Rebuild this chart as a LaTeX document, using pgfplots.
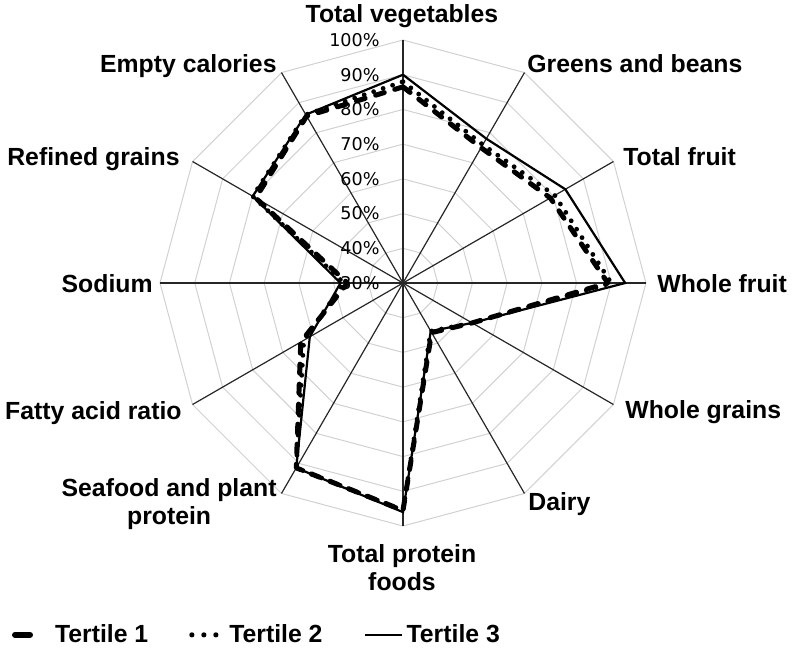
\documentclass[border=0pt]{standalone}
\usepackage{pgfplots}
\pgfplotsset{compat=1.18}
\usepackage{pgfplotstable}
\usepgfplotslibrary{polar}
\usepackage{fontspec}
\setmainfont{Liberation Sans}
\newfontfamily\tickfont{DejaVu Sans}

% scores (%) per component; first row repeated to close the web
\pgfplotstableread{
angle t1   t2   t3
90    86.5 88   90
60    75   76   78
30    79   80.5 84
0     89   90   94
-30   53   53   53
-60   46.5 46   46
-90   95.5 95.5 96
-120  91.5 91.5 91.5
-150  64   63   61
180   46   47   48
150   79   80   80
120   85.5 86   86
90    86.5 88   90
}\hei

\begin{document}
\begin{tikzpicture}[font=\bfseries\fontsize{12.4}{14}\selectfont]
\path[use as bounding box] (-201.5pt,-186pt) rectangle (195.5pt,141.5pt);
\begin{polaraxis}[
  name=ax, at={(0,0)}, anchor=center,
  scale only axis, width=243pt, height=243pt,
  xmin=0, xmax=360, ymin=0, ymax=70,
  hide axis, clip=false,
  legend columns=3,
  legend style={at={(-0.3045,-0.224)}, anchor=west, draw=none, fill=none,
    inner sep=0pt, outer sep=0pt,
    font=\bfseries\fontsize{12.4}{14}\selectfont,
    /tikz/every even column/.append style={column sep=20.5pt},
    nodes={inner sep=0pt}},
]
% web grid
\pgfplotsinvokeforeach{10,20,30,40,50,60,70}{
  \addplot[black!18, line width=0.5pt, forget plot] coordinates
    {(0,#1)(30,#1)(60,#1)(90,#1)(120,#1)(150,#1)(180,#1)(210,#1)(240,#1)(270,#1)(300,#1)(330,#1)(360,#1)};
}
\pgfplotsinvokeforeach{0,30,60,90,120,150,180,210,240,270,300,330}{
  \addplot[black!85, line width=0.6pt, forget plot] coordinates {(#1,0)(#1,70)};
}

\addplot[black, line width=2.5pt, line cap=round, line join=round,
  dash pattern=on 4.5pt off 5.5pt,
  legend image code/.code={\path[draw=none,fill=none] (0pt,0pt) -- (21.5pt,0pt);
    \draw[solid, line width=3pt, line cap=round] (1.5pt,0pt) -- (9pt,0pt);}]
  table[x=angle, y expr=\thisrow{t1}-30] {\hei};
\addlegendentry{Tertile 1}
\addplot[black, line width=2.4pt, line cap=round,
  dash pattern=on 0pt off 5pt,
  legend image code/.code={\path[draw=none,fill=none] (0pt,0pt) -- (20pt,0pt);
    \fill[draw=none] (1.3pt,0pt) circle (1.3pt) (7.3pt,0pt) circle (1.3pt) (13.3pt,0pt) circle (1.3pt);}]
  table[x=angle, y expr=\thisrow{t2}-30] {\hei};
\addlegendentry{Tertile 2}
\addplot[black, line width=1.1pt, line join=miter,
  legend image code/.code={\path[draw=none,fill=none] (0pt,0pt) -- (21pt,0pt);
    \draw[solid, line width=1.1pt] (0pt,0pt) -- (18.5pt,0pt);}]
  table[x=angle, y expr=\thisrow{t3}-30] {\hei};
\addlegendentry{Tertile 3}

% radial tick labels
\node[anchor=east, inner sep=0pt, font=\tickfont\fontsize{8.8}{10}\selectfont] at ([xshift=-11.5pt]axis cs:90,0) {30\%};
\node[anchor=east, inner sep=0pt, font=\tickfont\fontsize{8.8}{10}\selectfont] at ([xshift=-11.5pt]axis cs:90,10) {40\%};
\node[anchor=east, inner sep=0pt, font=\tickfont\fontsize{8.8}{10}\selectfont] at ([xshift=-11.5pt]axis cs:90,20) {50\%};
\node[anchor=east, inner sep=0pt, font=\tickfont\fontsize{8.8}{10}\selectfont] at ([xshift=-11.5pt]axis cs:90,30) {60\%};
\node[anchor=east, inner sep=0pt, font=\tickfont\fontsize{8.8}{10}\selectfont] at ([xshift=-11.5pt]axis cs:90,40) {70\%};
\node[anchor=east, inner sep=0pt, font=\tickfont\fontsize{8.8}{10}\selectfont] at ([xshift=-11.5pt]axis cs:90,50) {80\%};
\node[anchor=east, inner sep=0pt, font=\tickfont\fontsize{8.8}{10}\selectfont] at ([xshift=-11.5pt]axis cs:90,60) {90\%};
\node[anchor=east, inner sep=0pt, font=\tickfont\fontsize{8.8}{10}\selectfont] at ([xshift=-11.5pt]axis cs:90,70) {100\%};

% category labels
\node[anchor=base, inner sep=0pt] at ([shift={(-0.5pt,130.5pt)}]axis cs:0,0) {Total vegetables};
\node[anchor=base west, inner sep=0pt] at ([shift={(62pt,105.5pt)}]axis cs:0,0) {Greens and beans};
\node[anchor=base west, inner sep=0pt] at ([shift={(110pt,59pt)}]axis cs:0,0) {Total fruit};
\node[anchor=base west, inner sep=0pt] at ([shift={(127pt,-4.5pt)}]axis cs:0,0) {Whole fruit};
\node[anchor=base west, inner sep=0pt] at ([shift={(111pt,-67.5pt)}]axis cs:0,0) {Whole grains};
\node[anchor=base west, inner sep=0pt] at ([shift={(62.5pt,-113.5pt)}]axis cs:0,0) {Dairy};
\node[anchor=north, align=center, inner sep=0pt] at ([shift={(-0.5pt,-130.5pt)}]axis cs:0,0) {Total protein\\foods};
\node[anchor=north east, align=center, inner sep=0pt] at ([shift={(-63pt,-97.5pt)}]axis cs:0,0) {Seafood and plant\\protein};
\node[anchor=base east, inner sep=0pt] at ([shift={(-110.5pt,-68pt)}]axis cs:0,0) {Fatty acid ratio};
\node[anchor=base east, inner sep=0pt] at ([shift={(-125pt,-4.5pt)}]axis cs:0,0) {Sodium};
\node[anchor=base east, inner sep=0pt] at ([shift={(-111.5pt,59pt)}]axis cs:0,0) {Refined grains};
\node[anchor=base east, inner sep=0pt] at ([shift={(-63pt,105.5pt)}]axis cs:0,0) {Empty calories};
\end{polaraxis}
\end{tikzpicture}
\end{document}
